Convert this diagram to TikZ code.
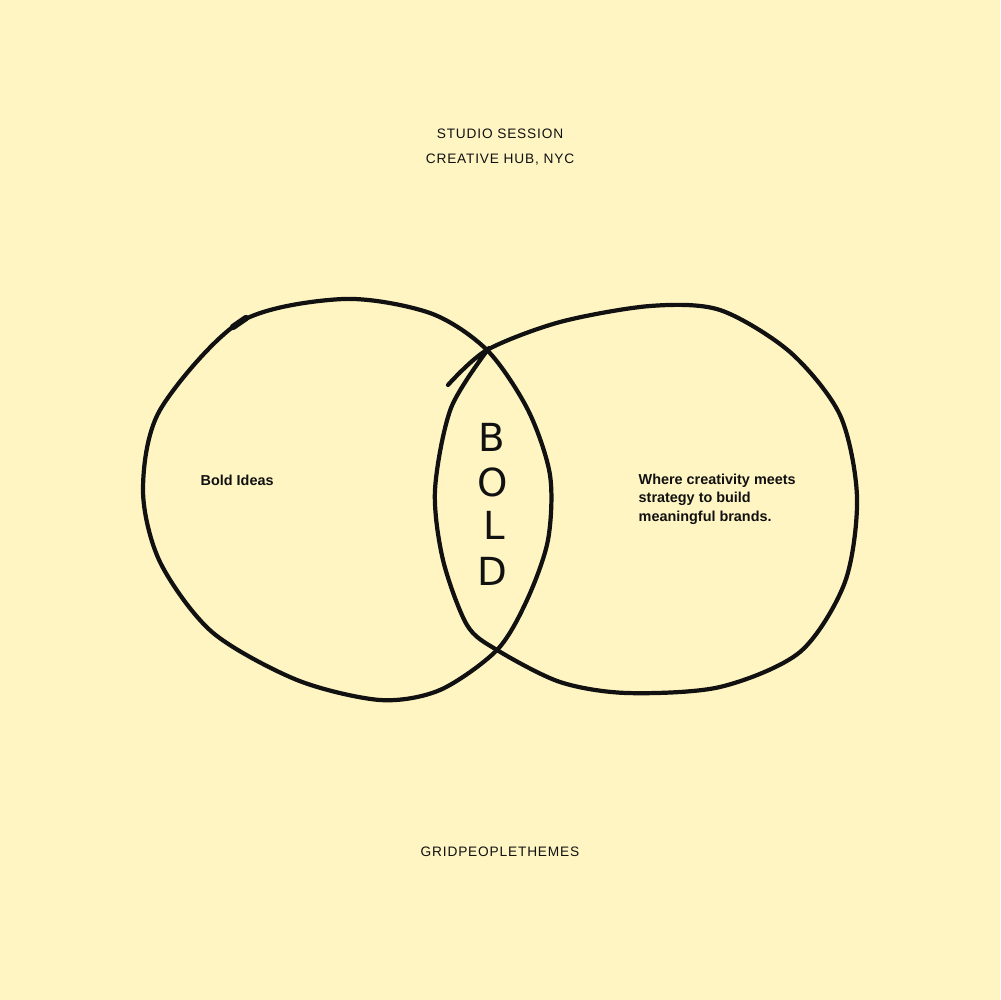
\documentclass[tikz,border=0pt]{standalone}
\usepackage{fontspec}
\setmainfont{Liberation Sans}
\newfontfamily\handfont[LetterSpace=6]{Liberation Sans}
\newfontfamily\bigletter{DejaVu Sans}
\definecolor{paper}{HTML}{FFF5C3}
\definecolor{ink}{HTML}{111111}
\begin{document}
\begin{tikzpicture}[x=0.1mm,y=-0.1mm,
  loop/.style={draw=ink,line width=1.2pt,line cap=round,line join=round},
  hand/.style={text=ink,font=\handfont\fontsize{3.9}{5}\selectfont,inner sep=0pt,anchor=center},
  body/.style={text=ink,font=\bfseries\fontsize{4.1}{5.25}\selectfont,inner sep=0pt},
  letter/.style={text=ink,font=\bigletter\fontsize{11}{12}\selectfont,inner sep=0pt,anchor=center}]
\fill[paper] (0,0) rectangle (1000,1000);
\useasboundingbox (0,0) rectangle (1000,1000);
% left loop
\draw[loop] plot[smooth cycle] coordinates {(240,322) (343,299) (430,313) (487,350) (528,410) (550,475) (548,540) (527,600) (497,650) (440,690) (380,700) (297,680) (212,632) (160,562) (143,490) (160,410)};
\draw[loop,line width=1.8pt] (233,327) -- (246,318);
% right loop
\draw[loop] plot[smooth] coordinates {(489,348) (451,408) (435,490) (443,560) (467,625) (497,650) (560,682) (627,693) (720,687) (800,652) (845,582) (857,497) (840,415) (790,352) (720,310) (650,306) (560,322) (487,350) (448,385)};
% texts
\node[hand] (t1) at (500,134) {STUDIO SESSION};
\node[hand] (t2) at (500,160) {CREATIVE HUB, NYC};
\node[hand] (t3) at (500,852) {GRIDPEOPLETHEMES};
\node[body,anchor=west] (bi) at (200,480) {Bold Ideas};
\node[body,anchor=north west,align=left] (wc) at (638,473) {Where creativity meets\\strategy to build\\meaningful brands.};
\node[letter] (lb) at (492,437) {B};
\node[letter] (lo) at (493,482) {O};
\node[letter] (ll) at (494,525) {L};
\node[letter] (ld) at (492,571) {D};
\end{tikzpicture}
\end{document}
